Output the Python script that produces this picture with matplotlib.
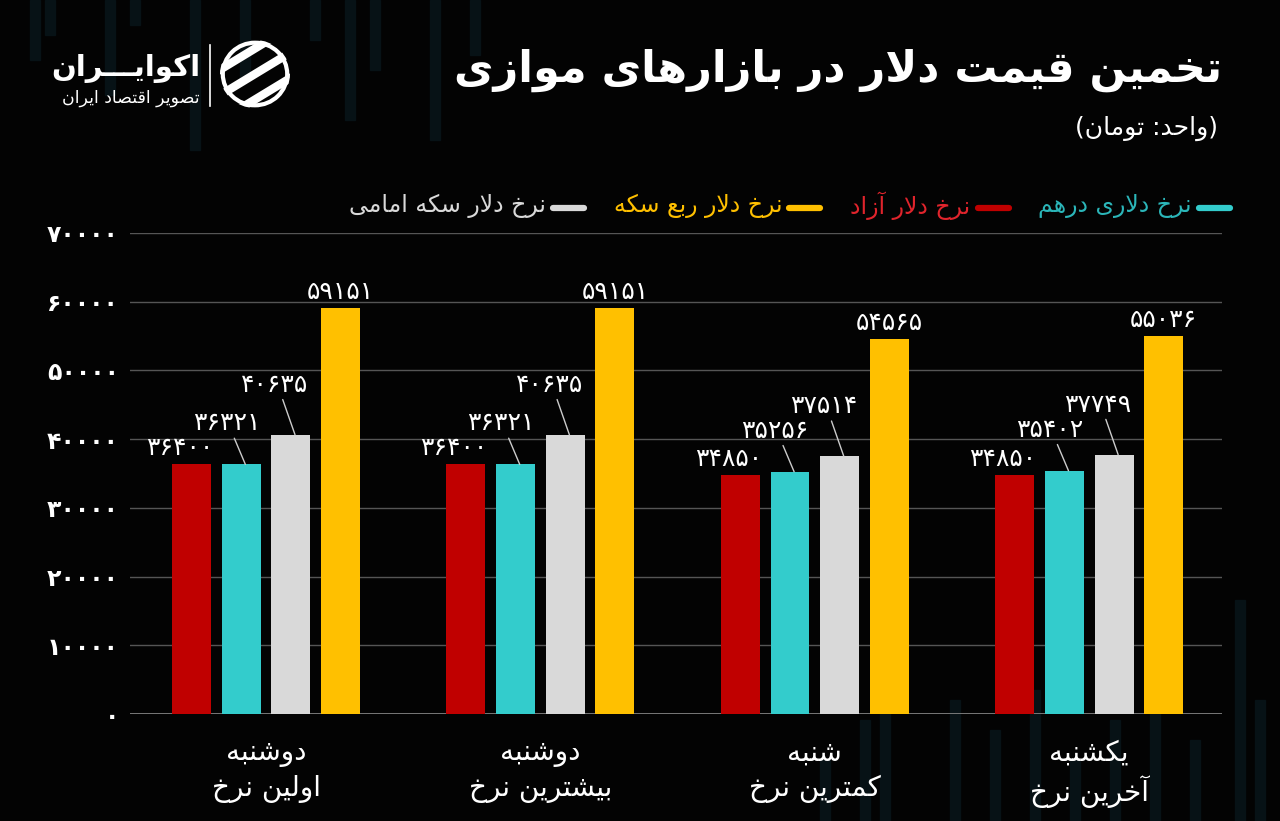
import re
import numpy as np
import matplotlib
matplotlib.use('Agg')
import matplotlib.pyplot as plt
from matplotlib.lines import Line2D
from matplotlib.patches import Circle, Rectangle
from matplotlib.ticker import FuncFormatter

# Data
categories = ['دوشنبه\nاولین نرخ', 'دوشنبه\nبیشترین نرخ', 'شنبه\nکمترین نرخ', 'یکشنبه\nآخرین نرخ']
azad = [36400, 36400, 34850, 34850]        # نرخ دلار آزاد
derham = [36321, 36321, 35256, 35402]      # نرخ دلاری درهم
emami = [40635, 40635, 37514, 37749]       # نرخ دلار سکه امامی
rob = [59151, 59151, 54565, 55036]         # نرخ دلار ربع سکه
y_ticks = [0, 10000, 20000, 30000, 40000, 50000, 60000, 70000]

title = 'تخمین قیمت دلار در بازارهای موازی'
subtitle = '(واحد: تومان)'
legend_names = ['نرخ دلاری درهم', 'نرخ دلار آزاد', 'نرخ دلار ربع سکه', 'نرخ دلار سکه امامی']
legend_colors = ['#33cccc', '#c00000', '#ffc000', '#d9d9d9']
legend_text_colors = ['#2bb6b9', '#e0242c', '#ffc000', '#d9d9d9']

# Simple Persian shaping (matplotlib has no complex text layout)
FORMS = {
    'ا': ('\uFE8D', '\uFE8E', None, None),
    'آ': ('\uFE81', '\uFE82', None, None),
    'ب': ('\uFE8F', '\uFE90', '\uFE91', '\uFE92'),
    'پ': ('\uFB56', '\uFB57', '\uFB58', '\uFB59'),
    'ت': ('\uFE95', '\uFE96', '\uFE97', '\uFE98'),
    'ح': ('\uFEA1', '\uFEA2', '\uFEA3', '\uFEA4'),
    'خ': ('\uFEA5', '\uFEA6', '\uFEA7', '\uFEA8'),
    'د': ('\uFEA9', '\uFEAA', None, None),
    'ر': ('\uFEAD', '\uFEAE', None, None),
    'ز': ('\uFEAF', '\uFEB0', None, None),
    'س': ('\uFEB1', '\uFEB2', '\uFEB3', '\uFEB4'),
    'ش': ('\uFEB5', '\uFEB6', '\uFEB7', '\uFEB8'),
    'ص': ('\uFEB9', '\uFEBA', '\uFEBB', '\uFEBC'),
    'ع': ('\uFEC9', '\uFECA', '\uFECB', '\uFECC'),
    'ق': ('\uFED5', '\uFED6', '\uFED7', '\uFED8'),
    'ک': ('\uFB8E', '\uFB8F', '\uFB90', '\uFB91'),
    'ل': ('\uFEDD', '\uFEDE', '\uFEDF', '\uFEE0'),
    'م': ('\uFEE1', '\uFEE2', '\uFEE3', '\uFEE4'),
    'ن': ('\uFEE5', '\uFEE6', '\uFEE7', '\uFEE8'),
    'ه': ('\uFEE9', '\uFEEA', '\uFEEB', '\uFEEC'),
    'و': ('\uFEED', '\uFEEE', None, None),
    'ی': ('\uFBFC', '\uFBFD', '\uFBFE', '\uFBFF'),
    'ـ': ('ـ', 'ـ', 'ـ', 'ـ'),
    'LA': ('\uFEFB', '\uFEFC', None, None),
    'LAA': ('\uFEF5', '\uFEF6', None, None),
}


def fa(text):
    lines = []
    for line in text.split('\n'):
        items = []
        i = 0
        while i < len(line):
            c = line[i]
            if c == 'ل' and i + 1 < len(line) and line[i + 1] in 'اآ':
                items.append('LA' if line[i + 1] == 'ا' else 'LAA')
                i += 2
            else:
                items.append(c)
                i += 1
        out = []
        for k, it in enumerate(items):
            if it not in FORMS:
                out.append(it)
                continue
            prev = items[k - 1] if k > 0 else None
            nxt = items[k + 1] if k + 1 < len(items) else None
            f = FORMS[it]
            jp = prev in FORMS and FORMS[prev][2] is not None
            jn = f[2] is not None and nxt in FORMS
            if jp and jn:
                out.append(f[3])
            elif jp:
                out.append(f[1])
            elif jn:
                out.append(f[2])
            else:
                out.append(f[0])
        s = ''.join(out)[::-1]
        s = re.sub('[0-9۰-۹]+', lambda m: m.group(0)[::-1], s)
        s = s.translate(str.maketrans('()', ')('))
        lines.append(s)
    return '\n'.join(lines)


def fa_num(v):
    return str(int(v)).translate(str.maketrans('0123456789', '۰۱۲۳۴۵۶۷۸۹'))


plt.rcParams['font.family'] = ['DejaVu Sans']
W, H = 1280, 821
fig = plt.figure(figsize=(12.8, 8.21), dpi=100, facecolor='#030303')


def fx(px):
    return px / W


def fy(py):
    return 1 - py / H


# faint candlestick decoration in the background
deco = [(30, 0, 60), (45, 0, 35), (105, 0, 95), (130, 0, 25), (190, 0, 150), (240, 0, 80),
        (310, 0, 40), (345, 0, 120), (370, 0, 70), (430, 0, 140), (470, 0, 55),
        (950, 700, 821), (990, 730, 821), (1030, 690, 821), (1070, 760, 821),
        (1110, 720, 821), (1150, 660, 821), (1190, 740, 821), (1235, 600, 821),
        (1255, 700, 821), (860, 720, 821), (820, 760, 821), (880, 700, 821)]
for dxp, y0, y1 in deco:
    fig.add_artist(Rectangle((fx(dxp), fy(y1)), fx(10), fy(y0) - fy(y1),
                             color='#071216', transform=fig.transFigure, zorder=0))

ax = fig.add_axes([fx(130), fy(714), fx(1222) - fx(130), fy(233) - fy(714)])
ax.set_facecolor('none')

x = np.arange(len(categories))
step, width = 0.181, 0.142
series = [(azad, '#c00000'), (derham, '#33cccc'), (emami, '#d9d9d9'), (rob, '#ffc000')]
label_off = [(-12, 4), (-19, 29), (-20, 38), (0, 4)]

for j, (vals, col) in enumerate(series):
    xs = x + (j - 1.5) * step
    ax.bar(xs, vals, width, color=col, zorder=3)
    dx, dy = label_off[j]
    for xi, v in zip(xs, vals):
        if j in (1, 2):
            ax.annotate(fa_num(v), xy=(xi + 0.015, v), xytext=(dx, dy),
                        textcoords='offset pixels', ha='center', va='bottom',
                        fontsize=18, color='white', zorder=4,
                        arrowprops=dict(arrowstyle='-', color='#cccccc', lw=1,
                                        shrinkA=0, shrinkB=0, relpos=(0.6, 0)))
        else:
            ax.annotate(fa_num(v), xy=(xi, v), xytext=(dx, dy),
                        textcoords='offset pixels', ha='center', va='bottom',
                        fontsize=18, color='white', zorder=4)

ax.set_xlim(-0.496, 3.484)
ax.set_ylim(0, 70000)
ax.set_yticks(y_ticks)
ax.yaxis.set_major_formatter(FuncFormatter(lambda v, p: fa_num(v)))
ax.tick_params(axis='y', length=0, pad=8, labelsize=17, labelcolor='white')
for lab in ax.get_yticklabels():
    lab.set_fontweight('bold')
ax.grid(axis='y', color='#555555', lw=1, zorder=0)
ax.set_xticks(x)
ax.set_xticklabels([fa(c) for c in categories], fontsize=20, color='white', linespacing=1.3)
ax.tick_params(axis='x', length=0, pad=18)
for s in ax.spines.values():
    s.set_visible(False)
ax.axhline(0, color='#888888', lw=1.2, zorder=2)

# Title block
fig.text(fx(1222), fy(70), fa(title), ha='right', va='center', fontsize=31,
         fontweight='bold', color='white')
fig.text(fx(1218), fy(128), fa(subtitle), ha='right', va='center', fontsize=18,
         color='white')

# Legend (right to left, marker right of text)
fig.canvas.draw()
renderer = fig.canvas.get_renderer()
xr = 1232
for name, mc, tc in zip(legend_names, legend_colors, legend_text_colors):
    fig.add_artist(Line2D([fx(xr - 33), fx(xr - 2)], [fy(208), fy(208)], color=mc,
                          lw=4.5, solid_capstyle='round', transform=fig.transFigure))
    t = fig.text(fx(xr - 40), fy(206), fa(name), ha='right', va='center',
                 fontsize=17, color=tc)
    bb = t.get_window_extent(renderer)
    xr = bb.x0 - 28

# Logo
fig.text(fx(200), fy(68), fa('اکوایـــران'), ha='right', va='center', fontsize=21,
         fontweight='bold', color='white')
fig.text(fx(200), fy(98), fa('تصویر اقتصاد ایران'), ha='right', va='center',
         fontsize=12.5, color='white')
fig.add_artist(Line2D([fx(210), fx(210)], [fy(45), fy(106)], color='white', lw=1.2,
                      transform=fig.transFigure))
lax = fig.add_axes([fx(220), fy(108), fx(70), fy(0) - fy(68)])
lax.set_xlim(-1, 1)
lax.set_ylim(-1, 1)
lax.axis('off')
clip = Circle((0, 0), 1, transform=lax.transData, facecolor='none', edgecolor='none')
lax.add_patch(clip)
for c in (-0.75, 0.0, 0.75):
    ln, = lax.plot([-1.2, 1.2], [-0.75 + c, 0.75 + c], color='white', lw=6,
                   solid_capstyle='butt')
    ln.set_clip_path(clip)
arc = Circle((0, 0), 0.92, facecolor='none', edgecolor='white', lw=3)
lax.add_patch(arc)

fig.savefig('out.png', dpi=100, facecolor=fig.get_facecolor())
